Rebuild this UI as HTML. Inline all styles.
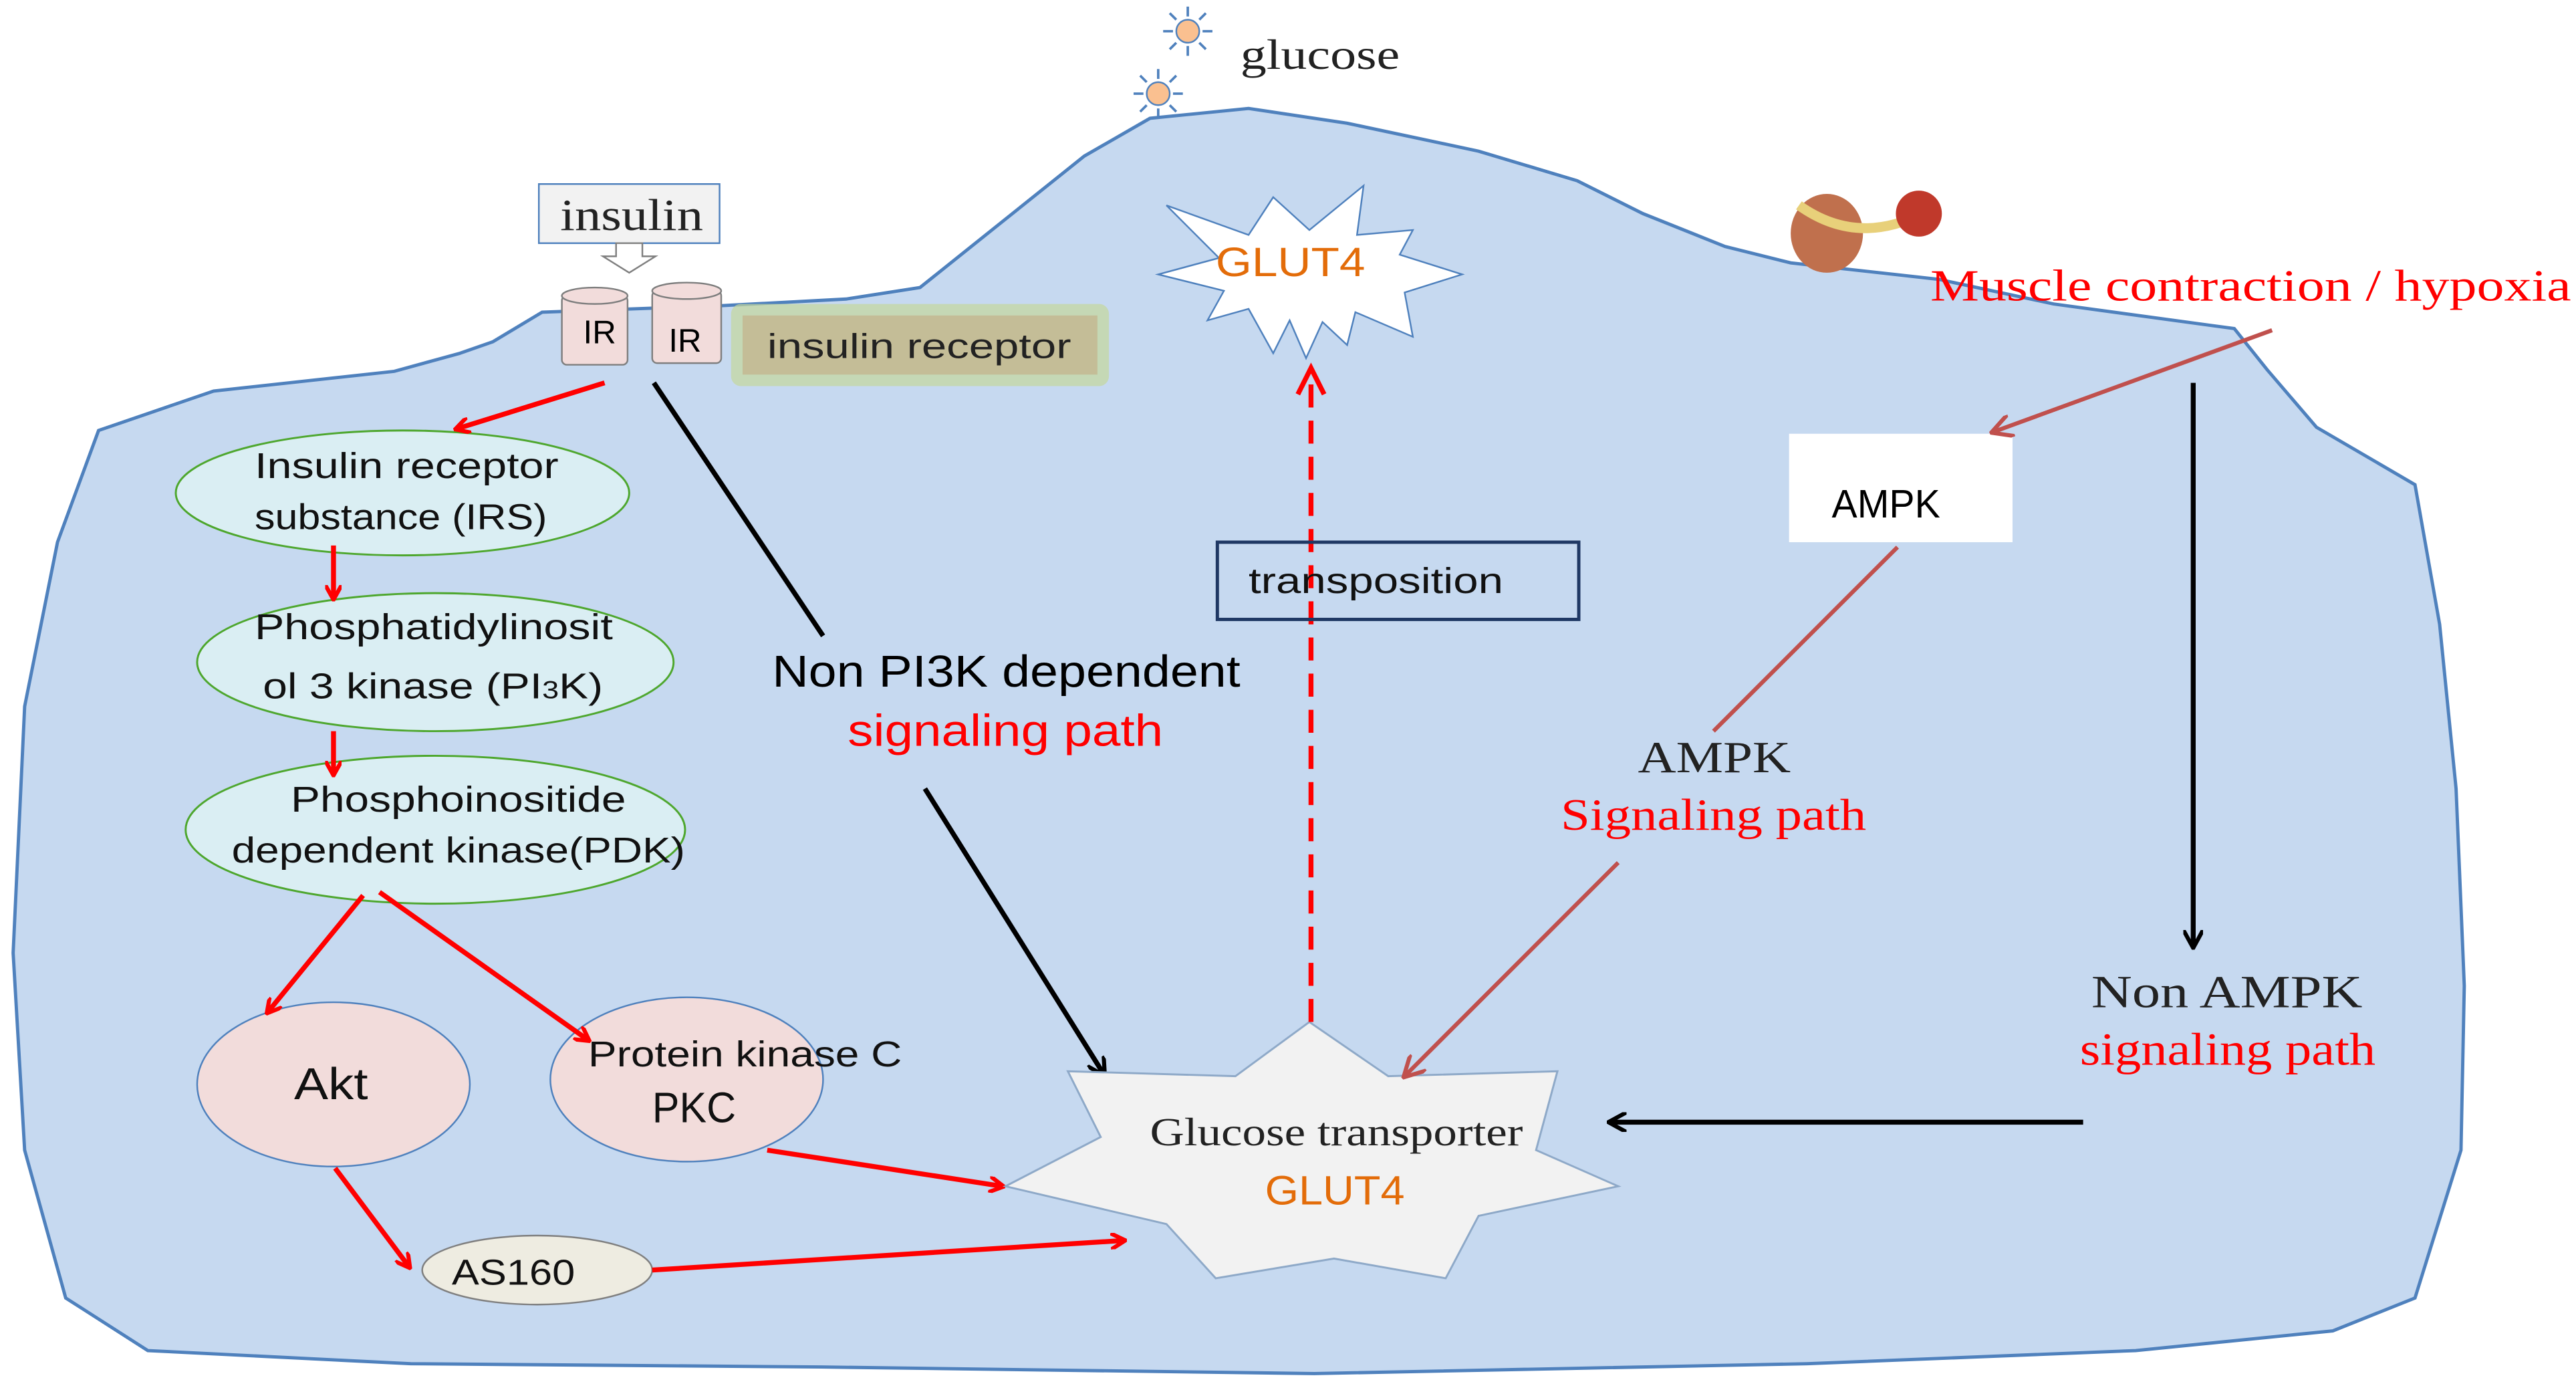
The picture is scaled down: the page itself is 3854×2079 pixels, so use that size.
<!DOCTYPE html>
<html><head><meta charset="utf-8"><style>
html,body{margin:0;padding:0;background:#fff;}
svg{display:block;}
.s{font-family:"Liberation Sans",sans-serif;}
.r{font-family:"Liberation Serif",serif;}
</style></head><body>
<svg width="3854" height="2079" viewBox="0 0 1568 846" preserveAspectRatio="none" xmlns="http://www.w3.org/2000/svg">
<defs>
<marker id="ar" markerWidth="10" markerHeight="10" refX="8" refY="5" orient="auto" markerUnits="userSpaceOnUse"><path d="M0,0 L9,5 L0,10" fill="none" stroke="#f00" stroke-width="2.5"/></marker>
<marker id="ab" markerWidth="12" markerHeight="12" refX="10" refY="6" orient="auto" markerUnits="userSpaceOnUse"><path d="M0,0 L11,6 L0,12" fill="none" stroke="#000" stroke-width="2.5"/></marker>
<marker id="ad" markerWidth="14" markerHeight="14" refX="12" refY="7" orient="auto" markerUnits="userSpaceOnUse"><path d="M0,0 L13,7 L0,14" fill="none" stroke="#c0504d" stroke-width="2.5"/></marker>
</defs>
<path d="M280,215 L300,208 L330,190 L440,186 L515,182 L560,175 L610,135 L660,95 L700,72 L760,66 L820,75 L900,92 L960,110 L1000,130 L1050,150 L1090,160 L1180,170 L1250,185 L1360,200 L1380,225 L1410,260 L1470,295 L1485,380 L1495,480 L1500,600 L1498,700 L1470,790 L1420,810 L1300,822 L1100,830 L800,836 L500,832 L250,830 L90,822 L40,790 L15,700 L8,580 L15,430 L35,330 L60,262 L130,238 L240,226 Z" fill="#c6d9f0" stroke="#4f81bd" stroke-width="2"/>
<g fill="#fac090" stroke="#4f81bd" stroke-width="1">
<circle cx="723" cy="19" r="7"/><circle cx="705" cy="57" r="7"/>
</g>
<g stroke="#4f81bd" stroke-width="1.5">
<path d="M723,4v6M723,28v6M708,19h6M732,19h6M712,8l4,4M734,8l-4,4M712,30l4,-4M734,30l-4,-4"/>
<path d="M705,42v6M705,66v6M690,57h6M714,57h6M694,46l4,4M716,46l-4,4M694,68l4,-4M716,68l-4,-4"/>
</g>
<g lengthAdjust="spacingAndGlyphs">
<text x="755" y="42" class="r" font-size="26" fill="#222" textLength="97" lengthAdjust="spacingAndGlyphs">glucose</text>
<rect x="328" y="112" width="110" height="36" fill="#f2f2f2" stroke="#4f81bd"/>
<text x="341" y="140" class="r" font-size="27" fill="#222" textLength="87" lengthAdjust="spacingAndGlyphs">insulin</text>
<path d="M375,148 h16 v8 h8 l-16,10 l-16,-10 h8z" fill="#fff" stroke="#7f7f7f"/>
<g fill="#f2dcdb" stroke="#7f7f7f">
<rect x="342" y="180" width="40" height="42" rx="3"/><ellipse cx="362" cy="180" rx="20" ry="5"/>
<rect x="397" y="177" width="42" height="44" rx="3"/><ellipse cx="418" cy="177" rx="21" ry="5"/>
</g>
<text x="365" y="209" class="s" font-size="20" text-anchor="middle">IR</text>
<text x="417" y="214" class="s" font-size="20" text-anchor="middle">IR</text>
<rect x="445" y="185" width="230" height="50" rx="6" fill="#c4d79b" opacity="0.7"/>
<rect x="452" y="192" width="216" height="36" fill="#c4bd97"/>
<text x="467" y="218" class="s" font-size="21" fill="#222" textLength="185" lengthAdjust="spacingAndGlyphs">insulin receptor</text>
<g fill="#daeef3" stroke="#4ea72e" stroke-width="1.2">
<ellipse cx="245" cy="300" rx="138" ry="38"/>
<ellipse cx="265" cy="403" rx="145" ry="42"/>
<ellipse cx="265" cy="505" rx="152" ry="45"/>
</g>
<g class="s" font-size="22" fill="#111">
<text x="155" y="291" textLength="185" lengthAdjust="spacingAndGlyphs">Insulin receptor</text>
<text x="155" y="322" textLength="178" lengthAdjust="spacingAndGlyphs">substance (IRS)</text>
<text x="155" y="389" textLength="218" lengthAdjust="spacingAndGlyphs">Phosphatidylinosit</text>
<text x="160" y="425" textLength="207" lengthAdjust="spacingAndGlyphs">ol 3 kinase (PI<tspan font-size="15">3</tspan>K)</text>
<text x="177" y="494" textLength="204" lengthAdjust="spacingAndGlyphs">Phosphoinositide</text>
<text x="141" y="525" textLength="276" lengthAdjust="spacingAndGlyphs">dependent kinase(PDK)</text>
</g>
<g fill="#f2dcdb" stroke="#4f81bd" stroke-width="1">
<ellipse cx="203" cy="660" rx="83" ry="50"/>
<ellipse cx="418" cy="657" rx="83" ry="50"/>
</g>
<ellipse cx="327" cy="773" rx="70" ry="21" fill="#eeece1" stroke="#7f7f7f"/>
<g class="s" fill="#111">
<text x="179" y="669" font-size="27" textLength="45" lengthAdjust="spacingAndGlyphs">Akt</text>
<text x="358" y="649" font-size="22" textLength="191" lengthAdjust="spacingAndGlyphs">Protein kinase C</text>
<text x="397" y="683" font-size="26" textLength="51" lengthAdjust="spacingAndGlyphs">PKC</text>
<text x="275" y="782" font-size="22" textLength="75" lengthAdjust="spacingAndGlyphs">AS160</text>
</g>
<g stroke="#f00" stroke-width="3" fill="none" marker-end="url(#ar)">
<line x1="368" y1="233" x2="278" y2="261"/>
<line x1="203" y1="332" x2="203" y2="364"/>
<line x1="203" y1="445" x2="203" y2="471"/>
<line x1="221" y1="545" x2="163" y2="616"/>
<line x1="231" y1="543" x2="358" y2="633"/>
<line x1="204" y1="711" x2="249" y2="771"/>
<line x1="467" y1="700" x2="610" y2="722"/>
<line x1="397" y1="773" x2="684" y2="755"/>
</g>
<line x1="398" y1="233" x2="501" y2="387" stroke="#000" stroke-width="3"/>
<line x1="563" y1="480" x2="672" y2="654" stroke="#000" stroke-width="3" marker-end="url(#ab)"/>
<text x="470" y="418" class="s" font-size="27" fill="#000" textLength="285" lengthAdjust="spacingAndGlyphs">Non PI3K dependent</text>
<text x="516" y="454" class="s" font-size="27" fill="#f00" textLength="192" lengthAdjust="spacingAndGlyphs">signaling path</text>
<path d="M797,622 L845,655 L948,652 L935,700 L985,722 L900,740 L880,778 L812,766 L740,778 L710,745 L612,722 L670,692 L650,652 L752,655 Z" fill="#f2f2f2" stroke="#8ea9c8" stroke-width="1.2"/>
<text x="700" y="697" class="r" font-size="24" fill="#222" textLength="227" lengthAdjust="spacingAndGlyphs">Glucose transporter</text>
<text x="770" y="733" class="s" font-size="25" fill="#e36c09" textLength="85" lengthAdjust="spacingAndGlyphs">GLUT4</text>
<path d="M797,140 L830,113 L826,143 L860,140 L852,155 L890,167 L855,178 L860,205 L825,190 L820,210 L805,196 L795,218 L785,195 L775,215 L760,188 L735,195 L745,177 L705,167 L742,157 L710,125 L760,143 L775,120 Z" fill="#fff" stroke="#4f81bd" stroke-width="1"/>
<text x="740" y="168" class="s" font-size="25" fill="#e36c09" textLength="91" lengthAdjust="spacingAndGlyphs">GLUT4</text>
<line x1="798" y1="622" x2="798" y2="228" stroke="#f00" stroke-width="3" stroke-dasharray="14,8"/>
<path d="M790,240 L798,224 L806,240" fill="none" stroke="#f00" stroke-width="3"/>
<rect x="741" y="330" width="220" height="47" fill="none" stroke="#1f3864" stroke-width="2"/>
<text x="760" y="361" class="s" font-size="22" fill="#111" textLength="155" lengthAdjust="spacingAndGlyphs">transposition</text>
<ellipse cx="1112" cy="142" rx="22" ry="24" fill="#c0704d"/>
<path d="M1095,125 Q1130,150 1170,130" stroke="#e8d07a" stroke-width="6" fill="none"/>
<circle cx="1168" cy="130" r="14" fill="#c0392b"/>
<text x="1175" y="183" class="r" font-size="27" fill="#f00" textLength="390" lengthAdjust="spacingAndGlyphs">Muscle contraction / hypoxia</text>
<rect x="1089" y="264" width="136" height="66" fill="#fff"/>
<text x="1115" y="315" class="s" font-size="24" fill="#000" textLength="66" lengthAdjust="spacingAndGlyphs">AMPK</text>
<line x1="1383" y1="201" x2="1213" y2="263" stroke="#c0504d" stroke-width="2.5" marker-end="url(#ad)"/>
<line x1="1155" y1="333" x2="1043" y2="445" stroke="#c0504d" stroke-width="2.5"/>
<line x1="985" y1="525" x2="855" y2="655" stroke="#c0504d" stroke-width="2.5" marker-end="url(#ad)"/>
<text x="997" y="470" class="r" font-size="27" fill="#222" textLength="93" lengthAdjust="spacingAndGlyphs">AMPK</text>
<text x="950" y="505" class="r" font-size="27" fill="#f00" textLength="186" lengthAdjust="spacingAndGlyphs">Signaling path</text>
<line x1="1335" y1="233" x2="1335" y2="576" stroke="#000" stroke-width="3" marker-end="url(#ab)"/>
<text x="1273" y="613" class="r" font-size="28" fill="#222" textLength="165" lengthAdjust="spacingAndGlyphs">Non AMPK</text>
<text x="1266" y="648" class="r" font-size="28" fill="#f00" textLength="180" lengthAdjust="spacingAndGlyphs">signaling path</text>
<line x1="1268" y1="683" x2="980" y2="683" stroke="#000" stroke-width="3" marker-end="url(#ab)"/>
</g>
</svg>
</body></html>
